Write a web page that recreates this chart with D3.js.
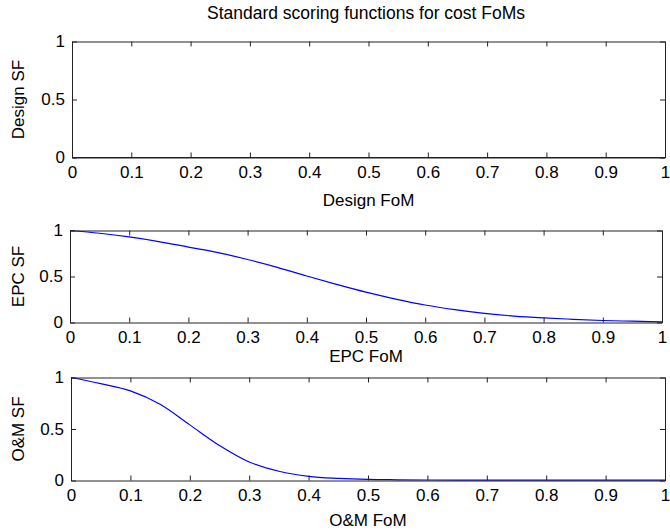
<!DOCTYPE html>
<html>
<script src="https://d3js.org/d3.v7.min.js"></script>
<style>
    body {
        margin: 0;
        background: #fff;
    }

    .tick text {
        font-size: 17px;
        font-family: "Liberation Sans Narrow", "Arial Narrow", sans-serif;
        fill: #000;
    }

    .domain, .tick line {
        stroke: #222;
    }
</style>

<body>
</body>
<script>
    const width = 670,
        height = 531;

    // FoM values sampled every 0.05
    const fom = [0, 0.05, 0.1, 0.15, 0.2, 0.25, 0.3, 0.35, 0.4, 0.45, 0.5,
        0.55, 0.6, 0.65, 0.7, 0.75, 0.8, 0.85, 0.9, 0.95, 1];
    const designSF = [0, 0, 0, 0, 0, 0, 0, 0, 0, 0, 0,
        0, 0, 0, 0, 0, 0, 0, 0, 0, 0];
    const epcSF = [1, 0.97, 0.93, 0.88, 0.82, 0.76, 0.685, 0.6, 0.505, 0.415, 0.33,
        0.255, 0.19, 0.14, 0.1, 0.07, 0.05, 0.035, 0.022, 0.014, 0.007];
    const omSF = [1, 0.94, 0.87, 0.74, 0.54, 0.34, 0.18, 0.09, 0.04, 0.02, 0.01,
        0.007, 0.005, 0.004, 0.004, 0.003, 0.003, 0.003, 0.003, 0.003, 0.003];
    const xTicks = [0, 0.1, 0.2, 0.3, 0.4, 0.5, 0.6, 0.7, 0.8, 0.9, 1];
    const yTicks = [0, 0.5, 1];

    const panels = [
        { values: designSF, yLabel: "Design SF", xLabel: "Design FoM", left: 72, right: 665, top: 41.5, bottom: 157.5, labelY: 206 },
        { values: epcSF, yLabel: "EPC SF", xLabel: "EPC FoM", left: 70, right: 662, top: 230.5, bottom: 322.5, labelY: 362 },
        { values: omSF, yLabel: "O&M SF", xLabel: "O&M FoM", left: 71, right: 665, top: 377.5, bottom: 480.5, labelY: 526 }
    ];

    const svg = d3.select("body").append("svg").attr("width", width).attr("height", height);
    const fmt = d => String(+d.toFixed(1));
    const font = "'Liberation Sans Narrow', 'Arial Narrow', sans-serif";

    svg.append("text")
        .attr("x", 366)
        .attr("y", 19)
        .attr("text-anchor", "middle")
        .attr("font-family", font)
        .attr("font-size", 17.5)
        .text("Standard scoring functions for cost FoMs");

    panels.forEach(p => {
        const x = d3.scaleLinear().domain([0, 1]).range([p.left, p.right]);
        const y = d3.scaleLinear().domain([0, 1]).range([p.bottom, p.top]);
        const g = svg.append("g");

        g.append("path")
            .datum(fom.map((f, i) => [f, p.values[i]]))
            .attr("fill", "none")
            .attr("stroke", "#0000ff")
            .attr("stroke-width", 1.2)
            .attr("d", d3.line().x(d => x(d[0])).y(d => y(d[1])).curve(d3.curveMonotoneX));

        g.append("g")
            .attr("transform", `translate(0,${p.bottom})`)
            .call(d3.axisBottom(x).tickValues(xTicks).tickFormat(fmt).tickSize(-5).tickSizeOuter(0).tickPadding(8));
        g.append("g")
            .attr("transform", `translate(0,${p.top})`)
            .call(d3.axisTop(x).tickValues(xTicks).tickFormat("").tickSize(-5).tickSizeOuter(0));
        g.append("g")
            .attr("transform", `translate(${p.left},0)`)
            .call(d3.axisLeft(y).tickValues(yTicks).tickFormat(fmt).tickSize(-5).tickSizeOuter(0).tickPadding(7));
        g.append("g")
            .attr("transform", `translate(${p.right},0)`)
            .call(d3.axisRight(y).tickValues(yTicks).tickFormat("").tickSize(-5).tickSizeOuter(0));

        g.append("text")
            .attr("text-anchor", "middle")
            .attr("x", (p.left + p.right) / 2)
            .attr("y", p.labelY)
            .attr("font-family", font)
            .attr("font-size", 17)
            .text(p.xLabel);
        g.append("text")
            .attr("text-anchor", "middle")
            .attr("transform", `translate(24,${(p.top + p.bottom) / 2})rotate(-90)`)
            .attr("font-family", font)
            .attr("font-size", 17)
            .text(p.yLabel);
    });
</script>

</html>
